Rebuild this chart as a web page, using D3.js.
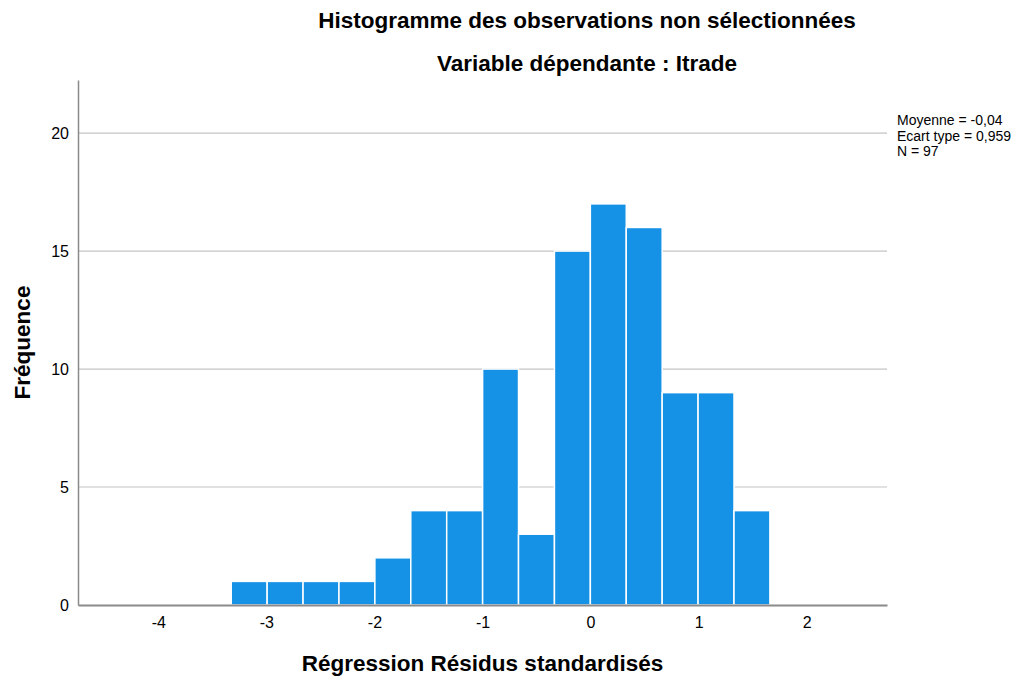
<!DOCTYPE html>
<html lang="fr">
<head>
  <meta charset="UTF-8" />
  <title>Histogramme</title>
  <script src="https://cdn.jsdelivr.net/npm/d3@7"></script>
  <style>
    body { margin: 0; background: #fff; }
    text { font-family: "Liberation Sans", Arial, sans-serif; fill: #000; }
  </style>
</head>
<body>
<div id="chart"></div>
<script>
// bin edges start and width
const binStart = -3.325;
const binWidth = 0.3323;
const counts = [1, 1, 1, 1, 2, 4, 4, 10, 3, 15, 17, 16, 9, 9, 4];
const xTicks = [-4, -3, -2, -1, 0, 1, 2];
const yTicks = [0, 5, 10, 15, 20];
const titleLines = ["Histogramme des observations non sélectionnées", "Variable dépendante : Itrade"];
const statsLines = ["Moyenne = -0,04", "Ecart type = 0,959", "N = 97"];

const W = 1026, H = 681;
const margin = { top: 80, right: 139, bottom: 76, left: 78 };
const width = W - margin.left - margin.right,
      height = H - margin.top - margin.bottom;

const bins = counts.map((c, i) => ({ x0: binStart + i * binWidth, x1: binStart + (i + 1) * binWidth, n: c }));

const x = d3.scaleLinear().domain([-4.743, 2.743]).range([0, width]);
const y = d3.scaleLinear().domain([0, 22.25]).range([height, 0]);

const svg = d3.select("#chart").append("svg")
  .attr("width", W)
  .attr("height", H);

const g = svg.append("g").attr("transform", `translate(${margin.left},${margin.top})`);

// grid lines
g.selectAll(".grid")
  .data(yTicks.filter(d => d > 0))
  .join("line")
  .attr("x1", 0).attr("x2", width)
  .attr("y1", d => y(d)).attr("y2", d => y(d))
  .attr("stroke", "#c4c4c4")
  .attr("stroke-width", 1.2);

// bars
g.selectAll(".bar")
  .data(bins)
  .join("rect")
  .attr("x", d => x(d.x0))
  .attr("y", d => y(d.n))
  .attr("width", d => x(d.x1) - x(d.x0))
  .attr("height", d => y(0) - y(d.n))
  .attr("fill", "#1591e6")
  .attr("stroke", "#ffffff")
  .attr("stroke-width", 1.5);

// axes (plain hyphen for negatives, like the original)
const fmt = d => String(d);
const yAxis = g.append("g").call(d3.axisLeft(y).tickValues(yTicks).tickFormat(fmt).tickSize(0).tickPadding(9));
yAxis.select(".domain").attr("stroke", "#8a8a8a").attr("stroke-width", 1.5);
yAxis.selectAll("text").style("font-size", "16px").style("font-family", "Liberation Sans, Arial, sans-serif");

const xAxis = g.append("g")
  .attr("transform", `translate(0,${height})`)
  .call(d3.axisBottom(x).tickValues(xTicks).tickFormat(fmt).tickSize(0).tickPadding(12));
xAxis.select(".domain").attr("stroke", "#8a8a8a").attr("stroke-width", 2);
xAxis.selectAll("text").style("font-size", "16px").style("font-family", "Liberation Sans, Arial, sans-serif");

// titles
svg.selectAll(".title")
  .data(titleLines)
  .join("text")
  .attr("x", 587)
  .attr("y", (d, i) => 28 + i * 43)
  .attr("text-anchor", "middle")
  .style("font-size", "22.5px")
  .style("font-weight", "bold")
  .text(d => d);

// axis labels
svg.append("text")
  .attr("x", margin.left + width / 2)
  .attr("y", 671)
  .attr("text-anchor", "middle")
  .style("font-size", "22.5px")
  .style("font-weight", "bold")
  .text("Régression Résidus standardisés");

svg.append("text")
  .attr("transform", `translate(30,${margin.top + height / 2}) rotate(-90)`)
  .attr("text-anchor", "middle")
  .style("font-size", "22.5px")
  .style("font-weight", "bold")
  .text("Fréquence");

// stats box
svg.selectAll(".stats")
  .data(statsLines)
  .join("text")
  .attr("x", 897)
  .attr("y", (d, i) => 125 + i * 15.5)
  .style("font-size", "14px")
  .text(d => d);
</script>
</body>
</html>
